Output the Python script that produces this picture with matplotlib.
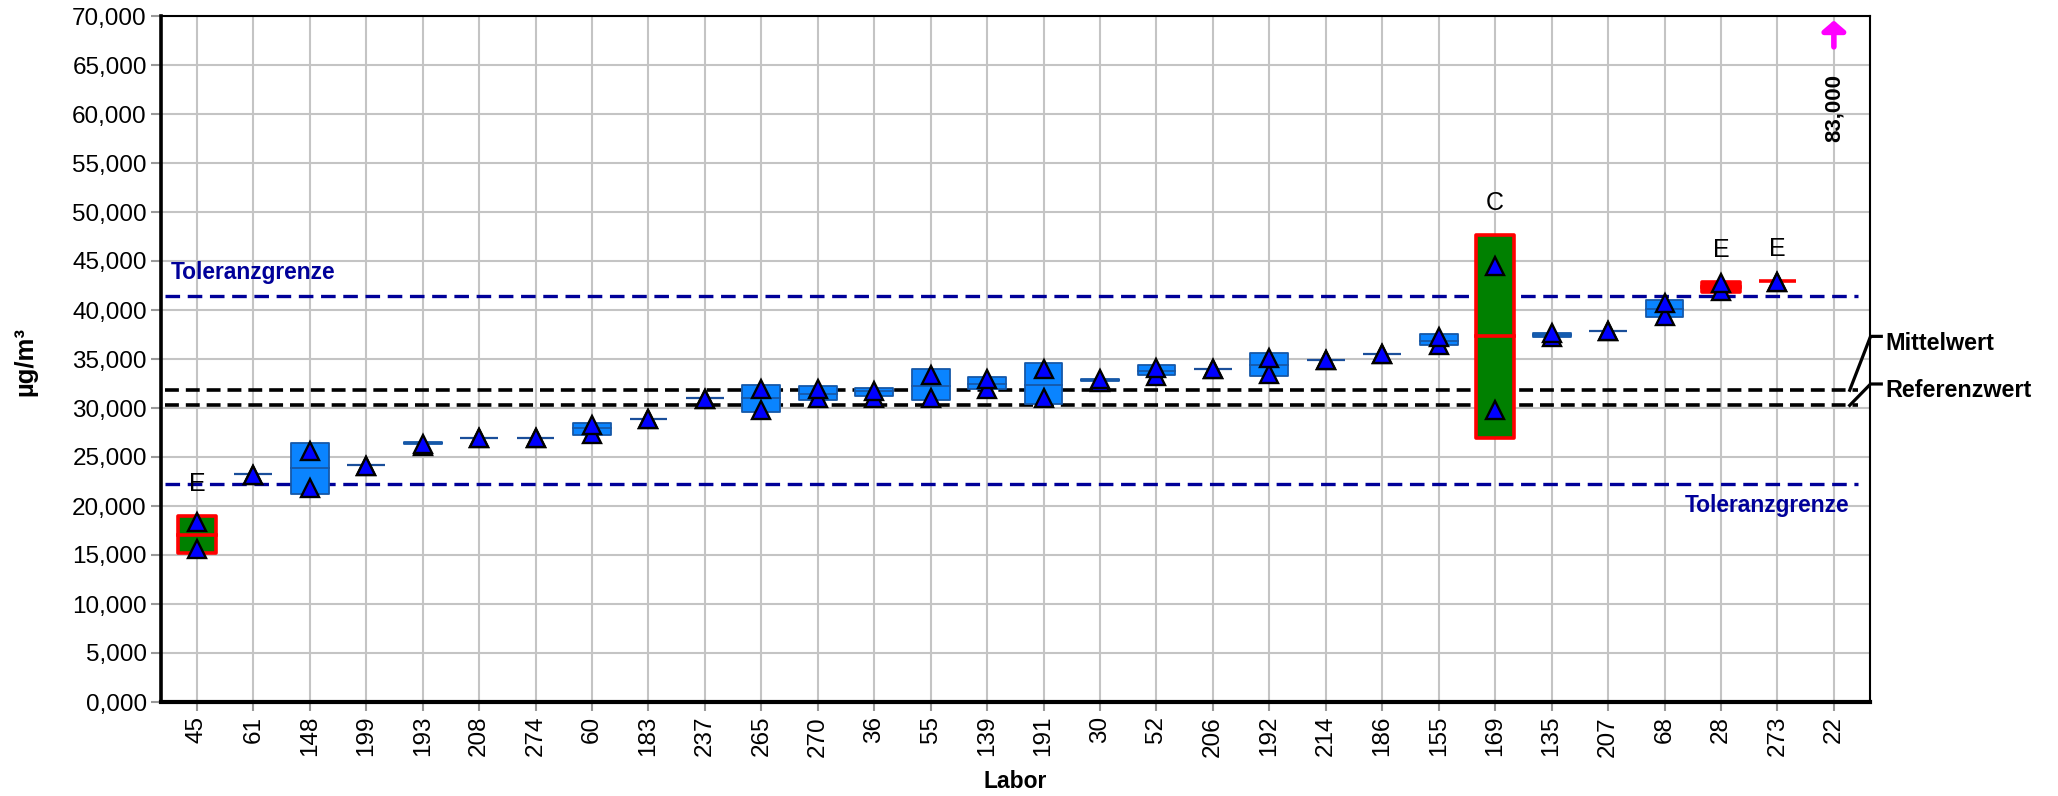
import matplotlib
matplotlib.use("Agg")
import matplotlib.pyplot as plt
from matplotlib.patches import Rectangle
from matplotlib import font_manager
import numpy as np

# ---------------- data ----------------
labs = ["45", "61", "148", "199", "193", "208", "274", "60", "183", "237",
        "265", "270", "36", "55", "139", "191", "30", "52", "206", "192",
        "214", "186", "155", "169", "135", "207", "68", "28", "273", "22"]

box_low = [15.17, 23.23, 21.22, 24.15, 26.29, 26.95, 26.95, 27.24, 28.88, 31.02,
           29.62, 30.82, 31.19, 30.82, 31.97, 30.37, 32.72, 33.33, 33.94, 33.30,
           34.93, 35.54, 36.46, 26.90, 37.24, 37.86, 39.25, 41.81, 42.96, np.nan]
box_high = [18.98, 23.23, 26.40, 24.15, 26.56, 26.95, 26.95, 28.50, 28.88, 31.02,
            32.38, 32.21, 32.00, 33.98, 33.20, 34.56, 32.99, 34.39, 33.94, 35.58,
            34.93, 35.54, 37.52, 47.65, 37.69, 37.86, 41.02, 42.89, 42.96, np.nan]
median = [17.00, 23.23, 23.85, 24.15, 26.43, 26.95, 26.95, 28.00, 28.88, 31.02,
          30.99, 31.43, 31.70, 32.21, 32.48, 32.38, 32.86, 33.81, 33.94, 34.35,
          34.93, 35.54, 36.80, 37.35, 37.48, 37.86, 40.10, 42.35, 42.96, np.nan]
value_1 = [18.37, 23.20, 25.58, 24.08, 26.30, 26.90, 26.90, 28.27, 28.84, 30.95,
           31.97, 31.95, 31.78, 33.35, 32.99, 33.94, 32.91, 34.11, 33.93, 35.12,
           34.92, 35.48, 37.28, 44.44, 37.62, 37.82, 40.75, 42.76, 42.89, np.nan]
value_2 = [15.58, 23.20, 21.87, 24.08, 26.15, 26.90, 26.90, 27.31, 28.84, 30.95,
           29.81, 31.05, 31.07, 30.99, 31.97, 30.99, 32.65, 33.30, 33.93, 33.47,
           34.92, 35.48, 36.40, 29.83, 37.21, 37.82, 39.39, 41.94, 42.89, np.nan]

offscale = {"22": 83.0}
flags = {"45": "E", "169": "C", "28": "E", "273": "E"}

mittelwert = 31.81
referenzwert = 30.27
tol_upper = 41.43
tol_lower = 22.24

y_ticks = list(range(0, 71, 5))

# ---------------- styles ----------------
avail = {f.name for f in font_manager.fontManager.ttflist}
base_font = "Liberation Sans" if "Liberation Sans" in avail else "DejaVu Sans"
narrow_font = "Liberation Sans Narrow" if "Liberation Sans Narrow" in avail else base_font
plt.rcParams["font.family"] = [base_font, "DejaVu Sans"]
plt.rcParams["lines.scale_dashes"] = False

BLUE_FILL = "#0A84FF"
BLUE_EDGE = "#1658A8"
FLAT_LINE = "#1A4E9A"
TRI_FILL = "#0000FF"
NAVY = "#000099"
special_fill = {"45": "#008000", "169": "#008000", "28": "#FF0000", "273": "#FF0000"}

fig = plt.figure(figsize=(20.58, 7.96), dpi=100)
ax = fig.add_axes([160.7 / 2058, 1 - 702 / 796, (1870 - 160.7) / 2058, (702 - 16) / 796])

x = np.arange(len(labs))
ax.set_xlim(-0.64, len(labs) - 1 + 0.64)
ax.set_ylim(0, 70)

ax.set_axisbelow(True)
ax.grid(True, color="#C4C4C4", lw=1.5, zorder=0)

ax.set_yticks(y_ticks)
ax.set_yticklabels([f"{v:.3f}".replace(".", ",") for v in y_ticks], fontsize=17.5)
ax.set_xticks(x)
ax.set_xticklabels(labs, rotation=90, fontsize=17.5, va="top", ha="center")
ax.tick_params(axis="y", length=7, width=1.5, color="#999999", pad=3)
ax.tick_params(axis="x", length=6.5, width=1.5, color="#999999", pad=3.5)

for side, lw in (("left", 2.6), ("bottom", 3.0), ("top", 1.5), ("right", 1.5)):
    ax.spines[side].set_linewidth(lw)
    ax.spines[side].set_color("black")

# reference lines
x0, x1 = -0.56, len(labs) - 1 + 0.42
ax.plot([x0, x1], [tol_upper, tol_upper], color=NAVY, lw=2.4, dashes=(10.5, 5.5), zorder=2)
ax.plot([x0, x1], [tol_lower, tol_lower], color=NAVY, lw=2.4, dashes=(10.5, 5.5), zorder=2)
ax.plot([x0, x1], [mittelwert, mittelwert], color="black", lw=2.6, dashes=(10, 5), zorder=2)
ax.plot([x0, x1], [referenzwert, referenzwert], color="black", lw=2.6, dashes=(10, 5), zorder=2)

ax.text(-0.47, 43.8, "Toleranzgrenze", color=NAVY, fontsize=16.4, fontweight="bold",
        ha="left", va="center", zorder=5)
ax.text(len(labs) - 1 + 0.27, 20.1, "Toleranzgrenze", color=NAVY, fontsize=16.4,
        fontweight="bold", ha="right", va="center", zorder=5)

# boxes
w = 0.67
for i, lab in enumerate(labs):
    lo, hi, md = box_low[i], box_high[i], median[i]
    if np.isnan(md):
        continue
    flagged = lab in special_fill
    if hi - lo < 1e-6:
        col = special_fill[lab] if flagged else FLAT_LINE
        ax.plot([i - w / 2, i + w / 2], [md, md], color=col,
                lw=2.6 if flagged else 1.6, solid_capstyle="butt", zorder=3)
    else:
        if flagged:
            fc, ec, elw = special_fill[lab], "#FF0000", 2.6
        else:
            fc, ec, elw = BLUE_FILL, BLUE_EDGE, 1.3
        ax.add_patch(Rectangle((i - w / 2, lo), w, hi - lo, facecolor=fc,
                               edgecolor=ec, lw=elw, joinstyle="round", zorder=3))
        ax.plot([i - w / 2, i + w / 2], [md, md],
                color="#FF0000" if flagged else BLUE_EDGE,
                lw=2.6 if flagged else 1.3, zorder=3.5)
    ax.plot([i, i], [value_2[i], value_1[i]], ls="none", marker="^", ms=12.5,
            mfc=TRI_FILL, mec="black", mew=1.7, zorder=4)
    if lab in flags:
        ax.text(i, hi + 3.25, flags[lab], fontsize=18, ha="center", va="center", zorder=5)

# off-scale value
for lab, val in offscale.items():
    i = labs.index(lab)
    ax.annotate("", xy=(i, 69.55), xytext=(i, 66.85),
                arrowprops=dict(arrowstyle="-|>,head_length=0.3,head_width=0.35",
                                color="#FF00FF", lw=4, shrinkA=0, shrinkB=0,
                                mutation_scale=20), zorder=6)
    ax.text(i, 60.6, f"{val:.3f}".replace(".", ","), rotation=90, fontsize=16,
            fontweight="bold", ha="center", va="center", zorder=6)

# right-side leader labels
xa, xb, xc = len(labs) - 1 + 0.28, len(labs) - 1 + 0.65, len(labs) - 1 + 0.84
ax.plot([xa, xb, xc], [mittelwert, 37.31, 37.31], color="black", lw=2.3, clip_on=False)
ax.plot([xa, xb, xc], [referenzwert, 32.45, 32.45], color="black", lw=2.3, clip_on=False)
ax.text(len(labs) - 1 + 0.92, 36.6, "Mittelwert", fontsize=16.8, fontweight="bold",
        ha="left", va="center", clip_on=False)
ax.text(len(labs) - 1 + 0.92, 31.77, "Referenzwert", fontsize=16.8, fontweight="bold",
        ha="left", va="center", clip_on=False)

# axis titles
fig.text(1015 / 2058, 1 - 781.7 / 796, "Labor", fontsize=16.5, fontweight="bold",
         family=[narrow_font, "DejaVu Sans"], ha="center", va="center")
fig.text(25 / 2058, 1 - 362 / 796, "µg/m³", fontsize=18.5, fontweight="bold",
         family=[narrow_font, "DejaVu Sans"], rotation=90, ha="center", va="center")

fig.savefig("out.png", dpi=100)
